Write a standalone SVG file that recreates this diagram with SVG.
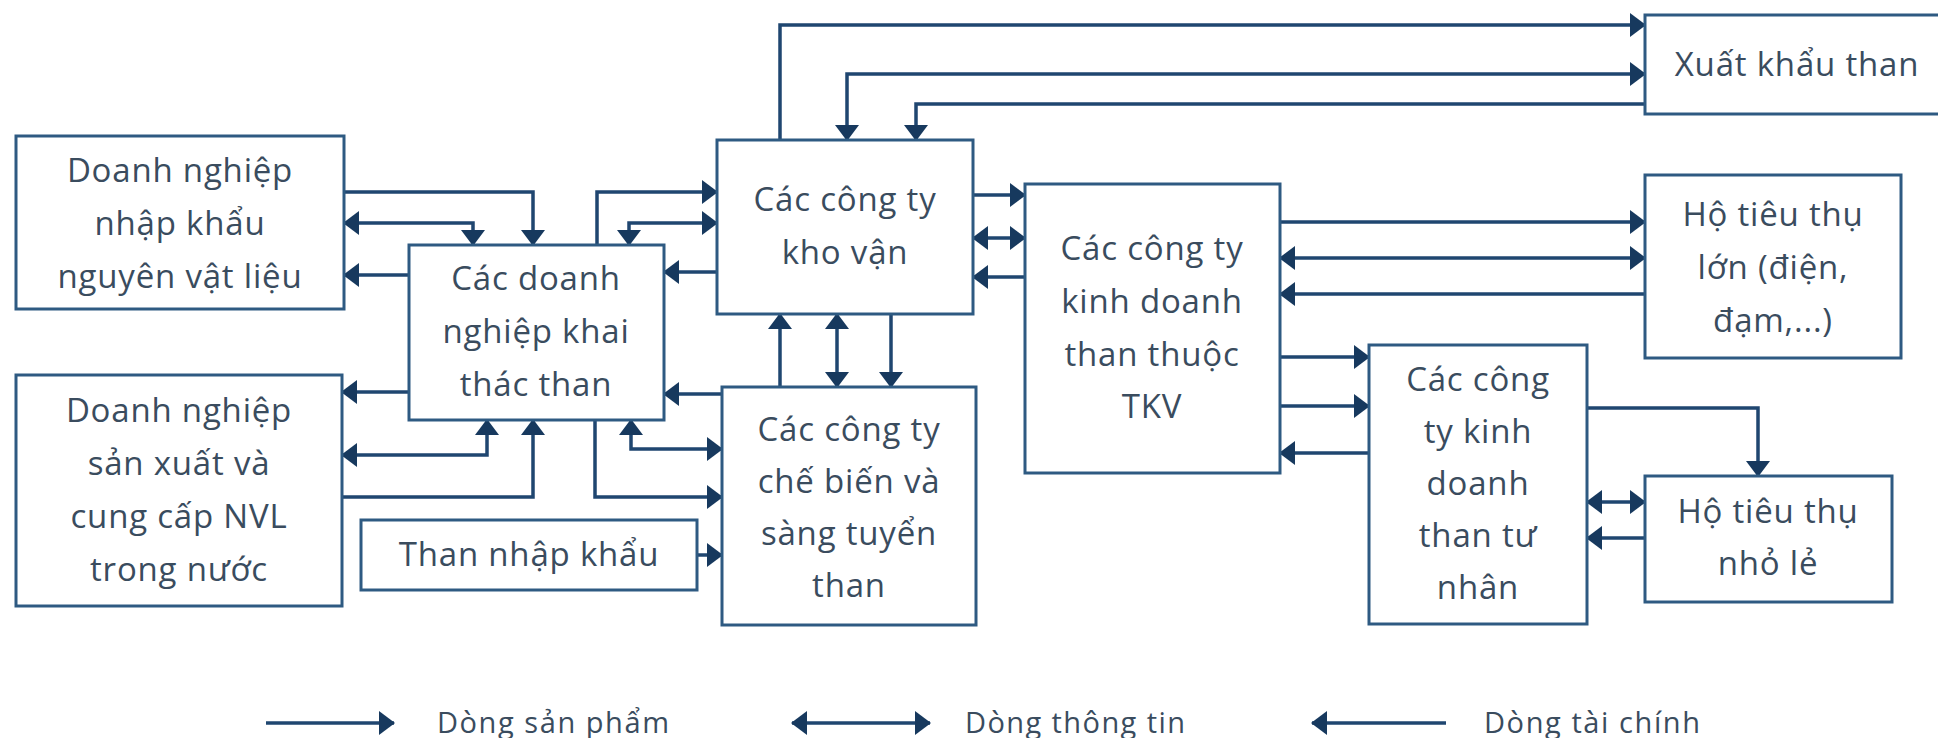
<svg xmlns="http://www.w3.org/2000/svg" width="1938" height="738" viewBox="0 0 1938 738">
<defs>
<style>
.box{fill:#fff;stroke:#2e5a82;stroke-width:3}
.t{font-family:"Open Sans","Noto Sans",sans-serif;font-size:33px;fill:#3a4c5e;text-anchor:middle;letter-spacing:0.8px}
.lg{font-family:"Open Sans","Noto Sans",sans-serif;font-size:29px;fill:#3a4c5e}
.c{fill:none;stroke:#1f4670;stroke-width:3.5}
.p{marker-end:url(#ah)}
.i{marker-start:url(#ah);marker-end:url(#ah)}
</style>
<marker id="ah" viewBox="0 0 16 24" refX="15" refY="12" markerWidth="16" markerHeight="24" markerUnits="userSpaceOnUse" orient="auto-start-reverse">
<path d="M0,0 L16,12 L0,24 Z" fill="#17395e"/>
</marker>
</defs>
<rect width="1938" height="738" fill="#fff"/>
<g id="connectors">
<!-- product -->
<path class="c p" d="M780 140 V25 H1645"/>
<path class="c p" d="M973 195 H1025"/>
<path class="c p" d="M1280 222 H1645"/>
<path class="c p" d="M1280 357 H1369"/>
<path class="c p" d="M1280 406 H1369"/>
<path class="c p" d="M1587 408 H1758 V476"/>
<path class="c p" d="M780 387 V314"/>
<path class="c p" d="M597 245 V192 H717"/>
<path class="c p" d="M595 420 V497 H722"/>
<path class="c p" d="M697 555 H722"/>
<path class="c p" d="M344 192 H533 V245"/>
<path class="c p" d="M342 497 H533 V420"/>
<!-- information -->
<path class="c i" d="M1645 74 H847 V140"/>
<path class="c i" d="M973 238 H1025"/>
<path class="c i" d="M1280 258 H1645"/>
<path class="c i" d="M1587 502 H1645"/>
<path class="c i" d="M837 314 V387"/>
<path class="c i" d="M629 245 V223 H717"/>
<path class="c i" d="M631 420 V449 H722"/>
<path class="c i" d="M344 223 H473 V245"/>
<path class="c i" d="M342 455 H487 V420"/>
<!-- financial -->
<path class="c p" d="M1645 104 H916 V140"/>
<path class="c p" d="M1025 277 H973"/>
<path class="c p" d="M1645 294 H1280"/>
<path class="c p" d="M1369 453 H1280"/>
<path class="c p" d="M1645 538 H1587"/>
<path class="c p" d="M891 314 V387"/>
<path class="c p" d="M717 272 H664"/>
<path class="c p" d="M722 394 H664"/>
<path class="c p" d="M409 275 H344"/>
<path class="c p" d="M409 392 H342"/>
</g>
<g id="nodeA"><rect class="box" x="16" y="136" width="328" height="173"/>
<text class="t" x="180" y="182">Doanh nghiệp</text><text class="t" x="180" y="235">nhập khẩu</text><text class="t" x="180" y="288">nguyên vật liệu</text></g>
<g id="nodeB"><rect class="box" x="16" y="375" width="326" height="231"/>
<text class="t" x="179" y="422">Doanh nghiệp</text><text class="t" x="179" y="475">sản xuất và</text><text class="t" x="179" y="528">cung cấp NVL</text><text class="t" x="179" y="581">trong nước</text></g>
<g id="nodeC"><rect class="box" x="409" y="245" width="255" height="175"/>
<text class="t" x="536" y="290">Các doanh</text><text class="t" x="536" y="343">nghiệp khai</text><text class="t" x="536" y="396">thác than</text></g>
<g id="nodeD"><rect class="box" x="361" y="520" width="336" height="70"/>
<text class="t" x="529" y="566">Than nhập khẩu</text></g>
<g id="nodeE"><rect class="box" x="717" y="140" width="256" height="174"/>
<text class="t" x="845" y="211">Các công ty</text><text class="t" x="845" y="264">kho vận</text></g>
<g id="nodeF"><rect class="box" x="722" y="387" width="254" height="238"/>
<text class="t" x="849" y="441">Các công ty</text><text class="t" x="849" y="493">chế biến và</text><text class="t" x="849" y="545">sàng tuyển</text><text class="t" x="849" y="597">than</text></g>
<g id="nodeG"><rect class="box" x="1025" y="184" width="255" height="289"/>
<text class="t" x="1152" y="260">Các công ty</text><text class="t" x="1152" y="313">kinh doanh</text><text class="t" x="1152" y="366">than thuộc</text><text class="t" x="1152" y="418">TKV</text></g>
<g id="nodeH"><rect class="box" x="1645" y="15" width="300" height="99"/>
<text class="t" x="1797" y="76">Xuất khẩu than</text></g>
<g id="nodeI"><rect class="box" x="1645" y="175" width="256" height="183"/>
<text class="t" x="1773" y="226">Hộ tiêu thụ</text><text class="t" x="1773" y="279">lớn (điện,</text><text class="t" x="1773" y="332">đạm,...)</text></g>
<g id="nodeJ"><rect class="box" x="1369" y="345" width="218" height="279"/>
<text class="t" x="1478" y="391">Các công</text><text class="t" x="1478" y="443">ty kinh</text><text class="t" x="1478" y="495">doanh</text><text class="t" x="1478" y="547">than tư</text><text class="t" x="1478" y="599">nhân</text></g>
<g id="nodeK"><rect class="box" x="1645" y="476" width="247" height="126"/>
<text class="t" x="1768" y="523">Hộ tiêu thụ</text><text class="t" x="1768" y="575">nhỏ lẻ</text></g>
<g id="legend">
<path class="c p" d="M266 723 H394"/>
<text class="lg" x="437" y="733" textLength="232">Dòng sản phẩm</text>
<path class="c i" d="M792 723 H930"/>
<text class="lg" x="965" y="733" textLength="220">Dòng thông tin</text>
<path class="c" d="M1446 723 H1312" marker-end="url(#ah)"/>
<text class="lg" x="1484" y="733" textLength="216">Dòng tài chính</text>
</g>
</svg>
